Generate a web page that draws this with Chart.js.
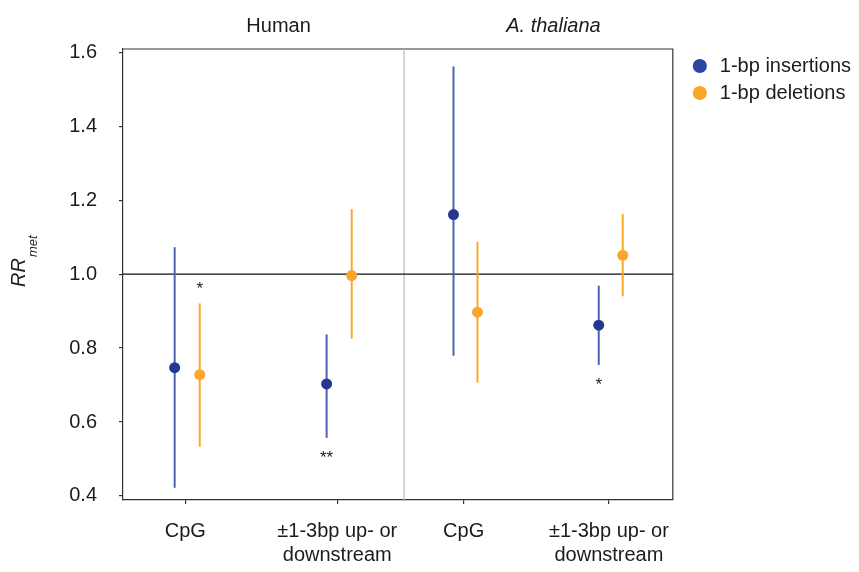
<!DOCTYPE html>
<html><head><meta charset="utf-8">
<script src="https://cdn.jsdelivr.net/npm/chart.js@4/dist/chart.umd.min.js"></script>
<style>html,body{margin:0;padding:0;background:#fff;}</style>
</head><body>
<canvas id="c" width="859" height="572"></canvas>
<script>
// ---------- data ----------
const panels = ['Human', 'A. thaliana'];
const categories = ['CpG', '±1-3bp up- or\ndownstream'];
const seriesNames = ['1-bp insertions', '1-bp deletions'];
const yTicks = [0.4, 0.6, 0.8, 1.0, 1.2, 1.4, 1.6];
const refLine = 1.0;

const humanInsEst  = [0.747, 0.703];
const humanInsLow  = [0.423, 0.558];
const humanInsHigh = [1.072, 0.836];
const humanDelEst  = [0.728, 0.996];
const humanDelLow  = [0.534, 0.826];
const humanDelHigh = [0.920, 1.175];

const athInsEst  = [1.161, 0.862];
const athInsLow  = [0.780, 0.755];
const athInsHigh = [1.561, 0.968];
const athDelEst  = [0.897, 1.051];
const athDelLow  = [0.707, 0.941];
const athDelHigh = [1.087, 1.162];

// significance marks: [panelIndex, seriesIndex, categoryIndex, text, side]
const sigMarks = [
  [0, 1, 0, '*',  'above'],
  [0, 0, 1, '**', 'below'],
  [1, 0, 1, '*',  'below']
];

// ---------- style ----------
const FONT = '"Liberation Sans", Arial, Helvetica, sans-serif';
const TEXT = '#1c1c1c';
const AXIS = '#333333';
const BLUE = '#25388f', BLUE_LINE = '#4a61b3', BLUE_LEG = '#2c45a3';
const ORANGE = '#f9a62b', ORANGE_LINE = '#f8a727', ORANGE_LEG = '#f9a62b';
const DODGE = [-0.07, 0.095];

const panelData = [
  { axis: 'xH', est: [humanInsEst, humanDelEst], low: [humanInsLow, humanDelLow], high: [humanInsHigh, humanDelHigh] },
  { axis: 'xA', est: [athInsEst, athDelEst],     low: [athInsLow, athDelLow],     high: [athInsHigh, athDelHigh] }
];

const datasets = [];
panelData.forEach((p, pi) => {
  [0, 1].forEach(si => {
    datasets.push({
      type: 'bar', label: seriesNames[si] + ' CI', xAxisID: p.axis, yAxisID: 'y',
      data: p.low[si].map((lo, ci) => ({ x: ci + 1 + DODGE[si], y: [lo, p.high[si][ci]] })),
      backgroundColor: si ? ORANGE_LINE : BLUE_LINE, borderWidth: 0,
      barThickness: 1.3, grouped: false, order: 2
    });
    datasets.push({
      type: 'scatter', label: seriesNames[si], xAxisID: p.axis, yAxisID: 'y',
      data: p.est[si].map((v, ci) => ({ x: ci + 1 + DODGE[si], y: v })),
      backgroundColor: si ? ORANGE : BLUE, borderWidth: 0,
      pointRadius: 5.5, pointHoverRadius: 5.5, order: 0
    });
  });
});

function xAxis(weight) {
  return {
    type: 'linear', position: 'bottom', stack: 'panels', stackWeight: weight,
    min: 0.59, max: 2.44, offset: false,
    afterBuildTicks: s => { s.ticks = categories.map((c, i) => ({ value: i + 1 })); },
    afterFit: s => { s.height = 68; },
    ticks: {
      callback: v => categories[Math.round(v) - 1].split('\n'),
      font: { size: 20, family: FONT, lineHeight: 1.22 }, color: TEXT,
      padding: 15, maxRotation: 0, autoSkip: false
    },
    grid: { display: true, offset: false, drawOnChartArea: false, drawTicks: true, tickLength: 4, color: AXIS, lineWidth: 1.2 },
    border: { display: true, color: AXIS, width: 1.2 }
  };
}

const deco = {
  id: 'deco',
  beforeDatasetsDraw(chart) {
    const { ctx, chartArea: a, scales } = chart;
    ctx.save();
    ctx.lineWidth = 1.2;
    ctx.strokeStyle = AXIS;
    ctx.beginPath();
    ctx.moveTo(a.left, a.top); ctx.lineTo(a.right, a.top); ctx.lineTo(a.right, a.bottom);
    ctx.stroke();
    const xd = scales.xH.right;
    ctx.strokeStyle = '#bcbcbc';
    ctx.beginPath(); ctx.moveTo(xd, a.top); ctx.lineTo(xd, a.bottom); ctx.stroke();
    const yr = scales.y.getPixelForValue(refLine);
    ctx.strokeStyle = '#111';
    ctx.beginPath(); ctx.moveTo(a.left, yr); ctx.lineTo(a.right, yr); ctx.stroke();
    ctx.restore();
  },
  afterDraw(chart) {
    const { ctx, chartArea: a, scales } = chart;
    ctx.save();
    ctx.fillStyle = TEXT;
    // panel titles
    ctx.textAlign = 'center'; ctx.textBaseline = 'middle';
    ['xH', 'xA'].forEach((id, i) => {
      const s = scales[id];
      ctx.font = (i === 1 ? 'italic ' : '') + '20px ' + FONT;
      ctx.fillText(panels[i], (s.left + s.right) / 2 + 15, a.top - 23);
    });
    // significance marks
    ctx.font = '17px ' + FONT;
    ctx.textBaseline = 'alphabetic';
    sigMarks.forEach(([pi, si, ci, txt, side]) => {
      const p = panelData[pi];
      const x = scales[p.axis].getPixelForValue(ci + 1 + DODGE[si]);
      let yc = side === 'above'
        ? scales.y.getPixelForValue(p.high[si][ci]) - 20
        : scales.y.getPixelForValue(p.low[si][ci]) + 15;
      ctx.fillText(txt, x, yc + 10);
    });
    // y axis title RR_met
    ctx.translate(25, a.top + 238);
    ctx.rotate(-Math.PI / 2);
    ctx.textAlign = 'left';
    ctx.font = 'italic 20px ' + FONT;
    ctx.fillText('RR', 0, 0);
    const w = ctx.measureText('RR').width;
    ctx.font = 'italic 13px ' + FONT;
    ctx.fillText('met', w + 1, 12);
    ctx.restore();
  }
};

new Chart(document.getElementById('c'), {
  type: 'scatter',
  data: { datasets },
  options: {
    responsive: false, animation: false, events: [],
    layout: { padding: { left: 0, right: -2, top: 49, bottom: 4 } },
    scales: {
      xH: xAxis(280.7),
      xA: xAxis(268.3),
      y: {
        type: 'linear', position: 'left', min: 0.389, max: 1.609,
        afterBuildTicks: s => { s.ticks = yTicks.map(v => ({ value: v })); },
        afterFit: s => { s.width = 123; },
        ticks: { callback: v => Number(v).toFixed(1), font: { size: 20, family: FONT }, color: TEXT, padding: 22 },
        grid: { display: true, drawOnChartArea: false, drawTicks: true, tickLength: 4, color: AXIS, lineWidth: 1.2 },
        border: { display: true, color: AXIS, width: 1.2 }
      },
      y2: {
        type: 'linear', position: 'right', display: false,
        afterFit: s => { s.width = 10; }
      }
    },
    plugins: {
      tooltip: { enabled: false },
      legend: {
        position: 'right', align: 'start',
        labels: {
          usePointStyle: true, boxWidth: 20, boxHeight: 10, padding: 7,
          font: { size: 20, family: FONT }, color: TEXT,
          generateLabels: () => seriesNames.map((n, i) => ({
            text: n, fillStyle: i ? ORANGE_LEG : BLUE_LEG, strokeStyle: i ? ORANGE_LEG : BLUE_LEG,
            lineWidth: 0, pointStyle: 'circle', hidden: false, fontColor: TEXT, datasetIndex: i * 1
          }))
        }
      }
    }
  },
  plugins: [deco]
});
</script>
</body></html>
